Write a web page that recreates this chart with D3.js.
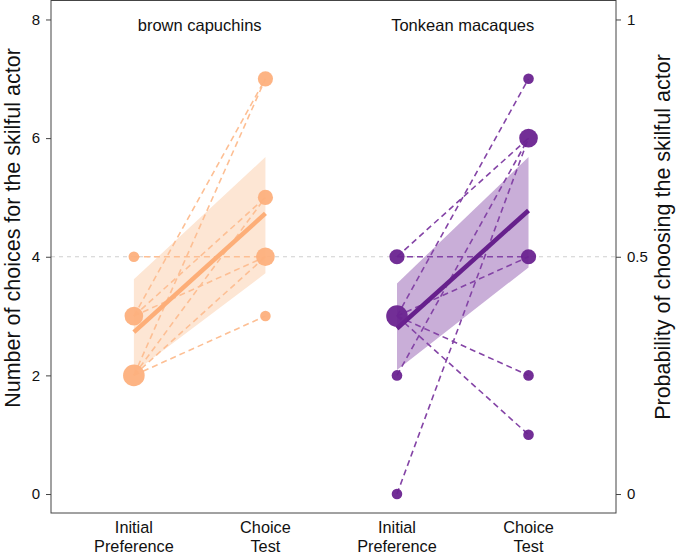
<!DOCTYPE html>
<html><head><meta charset="utf-8">
<script src="https://cdn.jsdelivr.net/npm/d3@7"></script>
<style>body{margin:0;background:#fff}svg{display:block}text{font-family:"Liberation Sans",Arial,sans-serif;fill:#111}</style>
</head><body><svg id="c" width="677" height="554"></svg>
<script>
const species = ["brown capuchins", "Tonkean macaques"];
const phases = [["Initial", "Preference"], ["Choice", "Test"]];
const capInitial = [4, 3, 3, 3, 2, 2, 2, 2];
const capChoice  = [4, 7, 5, 4, 7, 5, 4, 3];
const macInitial = [4, 4, 3, 3, 3, 3, 2, 0];
const macChoice  = [4, 6, 4, 7, 2, 1, 6, 6];
const fitMean  = [[2.73, 4.73], [2.79, 4.78]];
const fitLower = [[2.05, 3.72], [2.09, 3.82]];
const fitUpper = [[3.62, 5.68], [3.55, 5.68]];
const yTicks = [0, 2, 4, 6, 8];
const pTicks = [0, 0.5, 1];
const colors = {point: ["#FDB07D", "#6A2390"], line: ["#FDBF94", "#8444A6"], ribbon: ["#FDE6D4", "#C9AED8"], fit: ["#FDAE78", "#66208C"]};

const svg = d3.select("#c");
const L = 51, R = 616, T = 0.5, B = 513;
const x = d3.scaleLinear().domain([0.37, 4.665]).range([L, R]);
const y = d3.scaleLinear().domain([-0.32, 8.32]).range([B, T]);
const yp = d3.scaleLinear().domain([-0.04, 1.04]).range([B, T]);
const rad = n => Math.sqrt(5.3*5.3 + (10.8*10.8 - 5.3*5.3) * (n - 1) / 3);

svg.append("line").attr("x1", L).attr("x2", R).attr("y1", y(4)).attr("y2", y(4))
  .attr("stroke", "#cfcfcf").attr("stroke-width", 1).attr("stroke-dasharray", "4,4");

const groups = [[capInitial, capChoice], [macInitial, macChoice]];
groups.forEach(([ini, cho], g) => {
  const x0 = x(2*g + 1), x1 = x(2*g + 2);
  const area = d3.area().x(d => d[0]).y0(d => y(d[1])).y1(d => y(d[2]));
  svg.append("path").datum([[x0, fitLower[g][0], fitUpper[g][0]], [x1, fitLower[g][1], fitUpper[g][1]]])
    .attr("d", area).attr("fill", colors.ribbon[g]);
  ini.forEach((v, i) => {
    svg.append("line").attr("x1", x0).attr("y1", y(v)).attr("x2", x1).attr("y2", y(cho[i]))
      .attr("stroke", colors.line[g]).attr("stroke-width", 1.6).attr("stroke-dasharray", "6,4");
  });
  svg.append("line").attr("x1", x0).attr("y1", y(fitMean[g][0])).attr("x2", x1).attr("y2", y(fitMean[g][1]))
    .attr("stroke", colors.fit[g]).attr("stroke-width", 4.5);
  [[ini, x0], [cho, x1]].forEach(([vals, xx]) => {
    const counts = d3.rollups(vals, v => v.length, d => d);
    counts.forEach(([v, n]) => {
      svg.append("circle").attr("cx", xx).attr("cy", y(v)).attr("r", rad(n))
        .attr("fill", colors.point[g]).attr("opacity", 0.95);
    });
  });
  svg.append("text").attr("x", (x0 + x1) / 2).attr("y", 31).attr("text-anchor", "middle")
    .attr("font-size", 16.5).text(species[g]);
  [x0, x1].forEach((xx, k) => {
    phases[k].forEach((t, j) => {
      svg.append("text").attr("x", xx).attr("y", 533 + j * 19).attr("text-anchor", "middle")
        .attr("font-size", 16.3).text(t);
    });
  });
});

svg.append("rect").attr("x", L).attr("y", T).attr("width", R - L).attr("height", B - T)
  .attr("fill", "none").attr("stroke", "#444").attr("stroke-width", 1);

const ax = svg.append("g").attr("transform", `translate(${L},0)`)
  .call(d3.axisLeft(y).tickValues(yTicks).tickSize(5).tickPadding(6));
const ax2 = svg.append("g").attr("transform", `translate(${R},0)`)
  .call(d3.axisRight(yp).tickValues(pTicks).tickSize(5).tickPadding(6).tickFormat(d3.format("")));
[ax, ax2].forEach(a => {
  a.select(".domain").remove();
  a.selectAll(".tick line").attr("stroke", "#444");
  a.selectAll(".tick text").attr("font-size", 15).attr("fill", "#111")
    .style("font-family", '"Liberation Sans",Arial,sans-serif');
});

svg.append("text").attr("transform", `translate(20,228) rotate(-90)`).attr("text-anchor", "middle")
  .attr("font-size", 21.5).text("Number of choices for the skilful actor");
svg.append("text").attr("transform", `translate(662,237) rotate(-90)`).attr("text-anchor", "middle")
  .attr("dy", "0.35em").attr("font-size", 21.5).text("Probability of choosing the skilful actor");
</script></body></html>
